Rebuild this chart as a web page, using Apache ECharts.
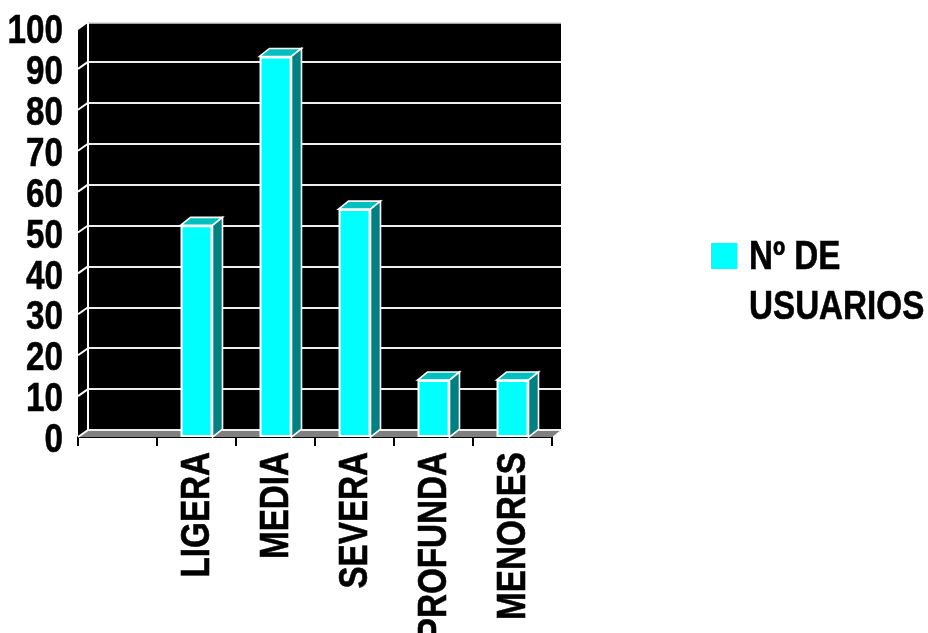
<!DOCTYPE html>
<html><head><meta charset="utf-8">
<style>html,body{margin:0;padding:0;background:#fff}#c{width:928px;height:633px}</style>
<script src="https://cdn.jsdelivr.net/npm/echarts@6/dist/echarts.min.js"></script>
</head><body><div id="c"></div>
<script>
const categories = ['', 'LIGERA', 'MEDIA', 'SEVERA', 'PROFUNDA', 'MENORES'];
const usuarios = [null, 52, 93.5, 56, 14, 14];
const yTicks = [0, 10, 20, 30, 40, 50, 60, 70, 80, 90, 100];

const FONT = '"Liberation Sans", Arial, sans-serif';
const DX = 10, DY = -7, BAR_DY = -8, BAR_W = 32, FS = 41, SX = 0.81, WALL_TOP = 23;
const chart = echarts.init(document.getElementById('c'), null, {renderer: 'canvas'});

const faceLine = {stroke: '#fff', lineWidth: 1.6, lineJoin: 'miter'};
const textStyle = {fontSize: FS, fontWeight: 'bold', fontFamily: FONT, fill: '#000', stroke: '#000', lineWidth: 0.6};

chart.setOption({
  animation: false,
  backgroundColor: '#fff',
  grid: [
    {left: 78, top: 30, width: 474, height: 407, show: false},
    {left: 88, top: 21, width: 473, height: 409, show: false}
  ],
  xAxis: [
    {type: 'category', gridIndex: 0, data: categories,
     axisLine: {show: true, onZero: false, lineStyle: {color: '#000', width: 2}},
     axisTick: {show: true, interval: 0, length: 9, alignWithLabel: false, lineStyle: {color: '#000', width: 2}},
     axisLabel: {show: false}, splitLine: {show: false}},
    {type: 'category', gridIndex: 1, data: categories, show: false}
  ],
  yAxis: [
    {type: 'value', gridIndex: 0, min: 0, max: 100, interval: 10,
     axisLine: {show: false}, axisTick: {show: false}, axisLabel: {show: false}, splitLine: {show: false}},
    {type: 'value', gridIndex: 1, min: 0, max: 100, interval: 10, z: 2,
     axisLine: {show: false}, axisTick: {show: false}, axisLabel: {show: false},
     splitLine: {show: true, showMaxLine: false, lineStyle: {color: '#eeeeee', width: 2}}}
  ],
  series: [
    { // back wall, left wall and floor
      type: 'custom', xAxisIndex: 1, yAxisIndex: 1, silent: true, z: 1, clip: false,
      data: [0],
      renderItem(params, api) {
        const x0 = params.coordSys.x, x1 = x0 + params.coordSys.width;
        const yb = api.coord([0, 0])[1];
        return {type: 'group', children: [
          {type: 'rect', shape: {x: x0, y: WALL_TOP, width: x1 - x0, height: yb - WALL_TOP}, style: {fill: '#000'}},
          {type: 'polygon', shape: {points: [[x0, WALL_TOP], [x0 - DX, WALL_TOP - DY], [x0 - DX, yb - DY], [x0, yb]]}, style: {fill: '#000'}},
          {type: 'polygon', shape: {points: [[x0 - DX, yb - DY], [x0, yb], [x1, yb], [x1 - DX + 1, yb - DY]]}, style: {fill: '#808080'}},
          {type: 'line', shape: {x1: x0, y1: WALL_TOP, x2: x1, y2: WALL_TOP}, style: {stroke: '#d8d8d8', lineWidth: 1.5}},
          {type: 'line', shape: {x1: x0, y1: WALL_TOP, x2: x0, y2: yb}, style: {stroke: '#fff', lineWidth: 2}}
        ]};
      }
    },
    { // diagonal tick lines on the left wall
      type: 'custom', xAxisIndex: 1, yAxisIndex: 1, silent: true, z: 3, clip: false,
      data: yTicks.slice(0, -1),
      renderItem(params, api) {
        const p = api.coord([0, api.value(0)]);
        const x0 = params.coordSys.x;
        return {type: 'line', shape: {x1: x0 - DX, y1: p[1] - DY, x2: x0, y2: p[1]},
                style: {stroke: '#fff', lineWidth: 2}};
      },
      encode: {y: 0}
    },
    { // bar top and side faces
      type: 'custom', xAxisIndex: 0, yAxisIndex: 0, silent: true, z: 3, clip: false,
      data: usuarios.map((v, i) => [i, v]),
      renderItem(params, api) {
        if (api.value(1) == null || isNaN(api.value(1))) return null;
        const t = api.coord([api.value(0), api.value(1)]);
        const b = api.coord([api.value(0), 0]);
        const l = t[0] - BAR_W / 2, r = t[0] + BAR_W / 2;
        return {type: 'group', children: [
          {type: 'polygon', shape: {points: [[l, t[1]], [l + DX, t[1] + BAR_DY], [r + DX, t[1] + BAR_DY], [r, t[1]]]},
           style: Object.assign({fill: '#00BFBF'}, faceLine)},
          {type: 'polygon', shape: {points: [[r, t[1]], [r + DX, t[1] + BAR_DY], [r + DX, b[1] + BAR_DY], [r, b[1]]]},
           style: Object.assign({fill: '#008080'}, faceLine)}
        ]};
      },
      encode: {x: 0, y: 1}
    },
    { // bar front faces
      type: 'bar', name: 'Nº DE USUARIOS', xAxisIndex: 0, yAxisIndex: 0, z: 4, barWidth: BAR_W,
      data: usuarios, silent: true,
      itemStyle: {color: '#00FFFF', borderColor: '#fff', borderWidth: 2}
    },
    { // value-axis tick labels
      type: 'custom', xAxisIndex: 0, yAxisIndex: 0, silent: true, z: 5, clip: false,
      data: yTicks,
      renderItem(params, api) {
        const v = api.value(0);
        const p = api.coord([0, v]);
        return {type: 'text', x: 63, y: p[1] + 1.5 + (100 - v) * 0.025, scaleX: SX,
          style: Object.assign({text: String(v), textAlign: 'right', textVerticalAlign: 'middle'}, textStyle)};
      },
      encode: {y: 0}
    },
    { // category tick labels
      type: 'custom', xAxisIndex: 0, yAxisIndex: 0, silent: true, z: 5, clip: false,
      data: categories.map((c, i) => [i, c]),
      renderItem(params, api) {
        const i = params.dataIndex;
        const p = api.coord([i, 0]);
        return {type: 'text', x: p[0] + 1.5, y: p[1] + 15, scaleX: SX, rotation: Math.PI / 2,
          style: Object.assign({text: categories[i], textAlign: 'right', textVerticalAlign: 'middle'}, textStyle)};
      }
    }
  ],
  graphic: [
    {type: 'rect', left: 711, top: 243, shape: {width: 26, height: 26}, style: {fill: '#00FFFF'}},
    {type: 'text', x: 749, y: 258, scaleX: SX,
     style: Object.assign({text: 'Nº DE', textVerticalAlign: 'middle'}, textStyle)},
    {type: 'text', x: 749, y: 308, scaleX: SX,
     style: Object.assign({text: 'USUARIOS', textVerticalAlign: 'middle'}, textStyle)}
  ]
});
</script></body></html>
